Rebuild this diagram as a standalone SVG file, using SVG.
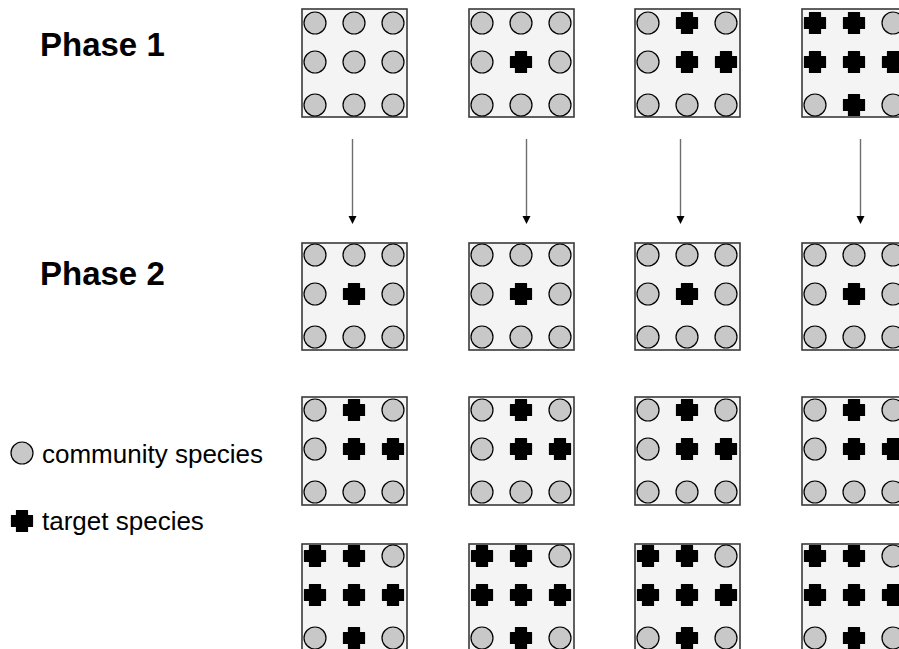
<svg xmlns="http://www.w3.org/2000/svg" xmlns:xlink="http://www.w3.org/1999/xlink" width="899" height="649" viewBox="0 0 899 649">
<style>
.box{fill:#f4f4f4;stroke:#3a3a3a;stroke-width:1.6}
.ttl{font-family:"Liberation Sans",Arial,sans-serif;font-weight:bold;font-size:33px;fill:#000}
.leg{font-family:"Liberation Sans",Arial,sans-serif;font-size:26px;fill:#000}
.conn{stroke:#6e6e6e;stroke-width:1.4;fill:none}
</style>
<defs>
<circle id="c" r="11" fill="#c8c8c8" stroke="#000" stroke-width="1.2"/>
<path id="x" d="M-5.5,-10.5H5.5V-5.5H10.5V5.5H5.5V10.5H-5.5V5.5H-10.5V-5.5H-5.5Z" fill="#000" stroke="#000" stroke-width="1.2" stroke-linejoin="round"/>
<g id="p0">
<use href="#c" x="13" y="14"/><use href="#c" x="52" y="14"/><use href="#c" x="91" y="14"/>
<use href="#c" x="13" y="53"/><use href="#c" x="52" y="53"/><use href="#c" x="91" y="53"/>
<use href="#c" x="13" y="96"/><use href="#c" x="52" y="96"/><use href="#c" x="91" y="96"/>
</g>
<g id="p1">
<use href="#c" x="13" y="14"/><use href="#c" x="52" y="14"/><use href="#c" x="91" y="14"/>
<use href="#c" x="13" y="53"/><use href="#x" x="52" y="53"/><use href="#c" x="91" y="53"/>
<use href="#c" x="13" y="96"/><use href="#c" x="52" y="96"/><use href="#c" x="91" y="96"/>
</g>
<g id="p3">
<use href="#c" x="13" y="14"/><use href="#x" x="52" y="14"/><use href="#c" x="91" y="14"/>
<use href="#c" x="13" y="53"/><use href="#x" x="52" y="53"/><use href="#x" x="91" y="53"/>
<use href="#c" x="13" y="96"/><use href="#c" x="52" y="96"/><use href="#c" x="91" y="96"/>
</g>
<g id="p6">
<use href="#x" x="13" y="14"/><use href="#x" x="52" y="14"/><use href="#c" x="91" y="14"/>
<use href="#x" x="13" y="53"/><use href="#x" x="52" y="53"/><use href="#x" x="91" y="53"/>
<use href="#c" x="13" y="96"/><use href="#x" x="52" y="96"/><use href="#c" x="91" y="96"/>
</g>
</defs>
<rect width="899" height="649" fill="#fff"/>

<text class="ttl" x="40" y="56">Phase 1</text>
<text class="ttl" x="40" y="285">Phase 2</text>

<g id="legend">
<use href="#c" x="22" y="453"/>
<text class="leg" x="42" y="463">community species</text>
<use href="#x" x="22" y="521"/>
<text class="leg" x="42" y="530">target species</text>
</g>

<!-- Phase 1 row -->
<g id="r1c1"><rect class="box" x="302" y="9" width="105" height="108"/><use href="#p0" x="302" y="9"/></g>
<g id="r1c2"><rect class="box" x="469" y="9" width="105" height="108"/><use href="#p1" x="469" y="9"/></g>
<g id="r1c3"><rect class="box" x="635" y="9" width="105" height="108"/><use href="#p3" x="635" y="9"/></g>
<g id="r1c4"><rect class="box" x="802" y="9" width="105" height="108"/><use href="#p6" x="802" y="9"/></g>

<!-- Phase 2 row -->
<g id="r2c1"><rect class="box" x="302" y="243" width="105" height="107"/><use href="#p1" x="302" y="241"/></g>
<g id="r2c2"><rect class="box" x="469" y="243" width="105" height="107"/><use href="#p1" x="469" y="241"/></g>
<g id="r2c3"><rect class="box" x="635" y="243" width="105" height="107"/><use href="#p1" x="635" y="241"/></g>
<g id="r2c4"><rect class="box" x="802" y="243" width="105" height="107"/><use href="#p1" x="802" y="241"/></g>

<!-- row 3 -->
<g id="r3c1"><rect class="box" x="302" y="397" width="105" height="108"/><use href="#p3" x="302" y="396"/></g>
<g id="r3c2"><rect class="box" x="469" y="397" width="105" height="108"/><use href="#p3" x="469" y="396"/></g>
<g id="r3c3"><rect class="box" x="635" y="397" width="105" height="108"/><use href="#p3" x="635" y="396"/></g>
<g id="r3c4"><rect class="box" x="802" y="397" width="105" height="108"/><use href="#p3" x="802" y="396"/></g>

<!-- row 4 -->
<g id="r4c1"><rect class="box" x="302" y="544" width="105" height="110"/><use href="#p6" x="302" y="542"/></g>
<g id="r4c2"><rect class="box" x="469" y="544" width="105" height="110"/><use href="#p6" x="469" y="542"/></g>
<g id="r4c3"><rect class="box" x="635" y="544" width="105" height="110"/><use href="#p6" x="635" y="542"/></g>
<g id="r4c4"><rect class="box" x="802" y="544" width="105" height="110"/><use href="#p6" x="802" y="542"/></g>

<g id="connectors">
<line class="conn" x1="352.5" y1="139" x2="352.5" y2="217"/>
<path d="M348.5,216L356.5,216L352.5,224Z" fill="#000"/>
<line class="conn" x1="526.5" y1="139" x2="526.5" y2="217"/>
<path d="M522.5,216L530.5,216L526.5,224Z" fill="#000"/>
<line class="conn" x1="680.5" y1="139" x2="680.5" y2="217"/>
<path d="M676.5,216L684.5,216L680.5,224Z" fill="#000"/>
<line class="conn" x1="860.5" y1="139" x2="860.5" y2="217"/>
<path d="M856.5,216L864.5,216L860.5,224Z" fill="#000"/>
</g>
</svg>
